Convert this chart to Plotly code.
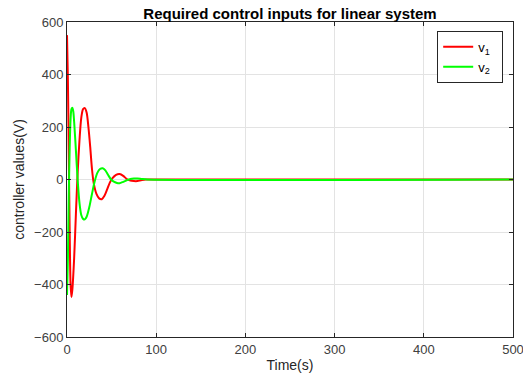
import plotly.graph_objects as go

# v1 (red) readings
t1 = [0, 1, 2, 3, 4, 5, 6, 8, 10, 12, 14, 16, 18, 20, 22, 24, 26, 28, 30, 33, 36, 39,
      42, 45, 48, 51, 55, 59, 63, 67, 71, 75, 79, 83, 88, 95, 500]
v1 = [550, 380, 100, -200, -400, -448, -420, -300, -130, 30, 150, 235, 268, 272, 255, 200,
      125, 40, -15, -55, -72, -75, -62, -38, -12, 5, 18, 21, 14, 2, -4, -6, -6, -3, 0, 0, 0]

# v2 (green) readings
t2 = [0, 1, 2, 3, 4, 5, 6, 7, 8, 10, 12, 14, 16, 18, 20, 22, 25, 28, 31, 34, 37, 40,
      43, 46, 49, 52, 56, 59, 63, 67, 71, 75, 79, 84, 90, 500]
v2 = [-440, -300, -60, 120, 230, 268, 273, 260, 220, 110, -5, -90, -135, -150, -152, -142,
      -105, -55, -8, 25, 40, 43, 35, 18, 2, -7, -13, -14, -9, -3, 2, 4, 4, 2, 0, 0]

x_ticks = [0, 100, 200, 300, 400, 500]
y_ticks = [-600, -400, -200, 0, 200, 400, 600]

FONT = "Liberation Sans, Arial"

fig = go.Figure()
fig.add_trace(go.Scatter(x=t1, y=v1, mode="lines", name="v<sub>1</sub>&nbsp;&nbsp;",
                         line=dict(color="#ff0000", width=2, shape="spline", smoothing=0.8)))
fig.add_trace(go.Scatter(x=t2, y=v2, mode="lines", name="v<sub>2</sub>&nbsp;&nbsp;",
                         line=dict(color="#00ff00", width=2, shape="spline", smoothing=0.8)))

axis_common = dict(showgrid=True, gridcolor="#e3e3e3", gridwidth=1, zeroline=False,
                   showline=True, linecolor="#262626", linewidth=1, mirror="ticks",
                   ticks="inside", ticklen=4, tickcolor="#262626",
                   ticklabeloverflow="allow", automargin=False,
                   tickfont=dict(family=FONT, size=13, color="#404040"))

fig.update_layout(
    width=523, height=376,
    margin=dict(l=67, r=10, t=22, b=39),
    paper_bgcolor="white", plot_bgcolor="white",
    title=dict(text="<b>Required control inputs for linear system</b>",
               x=0.5, xanchor="center", xref="paper", y=0.963, yanchor="middle",
               font=dict(family=FONT, size=15, color="#000000")),
    xaxis=dict(range=[0, 500], tickvals=x_ticks,
               title=dict(text="Time(s)", standoff=4,
                          font=dict(family=FONT, size=14, color="#262626")),
               **axis_common),
    yaxis=dict(range=[-600, 600], tickvals=y_ticks,
               title=dict(text="controller values(V)", standoff=6,
                          font=dict(family=FONT, size=14, color="#262626")),
               **axis_common),
    legend=dict(x=0.978, y=0.972, xanchor="right", yanchor="top",
                bgcolor="white", bordercolor="#262626", borderwidth=1,
                tracegroupgap=0,
                font=dict(family=FONT, size=13, color="#000000")),
    showlegend=True,
)

fig.write_html("out.html")
